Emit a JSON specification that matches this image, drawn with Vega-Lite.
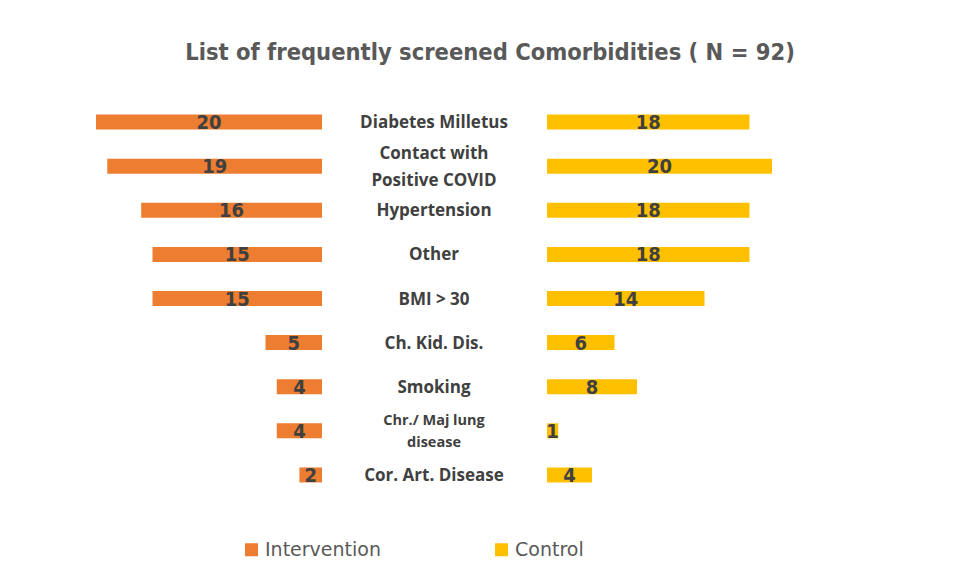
{
  "$schema": "https://vega.github.io/schema/vega-lite/v6.json",
  "background": "white",
  "padding": {"left": 96, "top": 40, "right": 10, "bottom": 10},
  "title": {
    "text": "List of frequently screened Comorbidities ( N = 92)",
    "font": "Liberation Sans Narrow, DejaVu Sans Condensed, sans-serif",
    "fontSize": 23.5,
    "fontWeight": "bold",
    "color": "#595959",
    "anchor": "middle",
    "dx": 56,
    "offset": 36
  },
  "datasets": {
    "rows": [
      {"cat": "Diabetes Milletus", "group": "Intervention", "value": 20},
      {"cat": "Diabetes Milletus", "group": "Control", "value": 18},
      {"cat": "Contact with\nPositive COVID", "group": "Intervention", "value": 19},
      {"cat": "Contact with\nPositive COVID", "group": "Control", "value": 20},
      {"cat": "Hypertension", "group": "Intervention", "value": 16},
      {"cat": "Hypertension", "group": "Control", "value": 18},
      {"cat": "Other", "group": "Intervention", "value": 15},
      {"cat": "Other", "group": "Control", "value": 18},
      {"cat": "BMI > 30", "group": "Intervention", "value": 15},
      {"cat": "BMI > 30", "group": "Control", "value": 14},
      {"cat": "Ch. Kid. Dis.", "group": "Intervention", "value": 5},
      {"cat": "Ch. Kid. Dis.", "group": "Control", "value": 6},
      {"cat": "Smoking", "group": "Intervention", "value": 4},
      {"cat": "Smoking", "group": "Control", "value": 8},
      {"cat": "Chr./  Maj  lung\ndisease", "group": "Intervention", "value": 4},
      {"cat": "Chr./  Maj  lung\ndisease", "group": "Control", "value": 1},
      {"cat": "Cor. Art. Disease", "group": "Intervention", "value": 2},
      {"cat": "Cor. Art. Disease", "group": "Control", "value": 4}
    ]
  },
  "data": {"name": "rows"},
  "spacing": 0,
  "config": {
    "view": {"stroke": null},
    "legend": {
      "symbolType": "square",
      "symbolSize": 169,
      "symbolStrokeWidth": 0,
      "labelFont": "DejaVu Sans",
      "labelFontSize": 19,
      "labelColor": "#595959",
      "labelLimit": 300,
      "columnPadding": 111,
      "labelOffset": 4
    }
  },
  "hconcat": [
    {
      "width": 226,
      "height": 397,
      "transform": [{"filter": "datum.group === 'Intervention'"}],
      "encoding": {
        "y": {"field": "cat", "type": "nominal", "axis": null,
              "sort": ["Diabetes Milletus", "Contact with\nPositive COVID", "Hypertension", "Other", "BMI > 30", "Ch. Kid. Dis.", "Smoking", "Chr./  Maj  lung\ndisease", "Cor. Art. Disease"],
              "scale": {"paddingInner": 0.66, "paddingOuter": 0.33}}
      },
      "layer": [
        {
          "mark": {"type": "bar"},
          "encoding": {
            "x": {"field": "value", "type": "quantitative", "axis": null,
                  "scale": {"domain": [0, 20], "reverse": true, "nice": false, "zero": true}},
            "color": {"field": "group", "type": "nominal",
                      "scale": {"domain": ["Intervention", "Control"], "range": ["#ED7D31", "#FFC000"]},
                      "legend": {"orient": "none", "direction": "horizontal", "title": null, "legendX": 146, "legendY": 440}}
          }
        },
        {
          "mark": {"type": "text", "font": "Liberation Sans Narrow, DejaVu Sans Condensed, sans-serif", "fontSize": 20, "fontWeight": "bold", "color": "#404040", "align": "center", "baseline": "middle", "dy": 1},
          "encoding": {
            "x": {"field": "value", "type": "quantitative", "axis": null,
                  "scale": {"domain": [0, 40], "reverse": true, "nice": false, "zero": true}},
            "text": {"field": "value", "type": "quantitative"}
          }
        }
      ],
      "resolve": {"scale": {"x": "independent"}}
    },
    {
      "width": 224,
      "height": 397,
      "transform": [{"filter": "datum.group === 'Control'"}],
      "encoding": {
        "y": {"field": "cat", "type": "nominal", "axis": null,
              "sort": ["Diabetes Milletus", "Contact with\nPositive COVID", "Hypertension", "Other", "BMI > 30", "Ch. Kid. Dis.", "Smoking", "Chr./  Maj  lung\ndisease", "Cor. Art. Disease"],
              "scale": {"paddingInner": 0.66, "paddingOuter": 0.33}}
      },
      "layer": [
        {
          "transform": [{"filter": "indexof(datum.cat, 'Contact') < 0 && indexof(datum.cat, 'lung') < 0"}],
          "mark": {"type": "text", "font": "Open Sans", "fontSize": 17, "fontWeight": "bold", "color": "#404040", "align": "center", "baseline": "middle", "dy": 1},
          "encoding": {"text": {"field": "cat", "type": "nominal"}}
        },
        {
          "transform": [{"filter": "indexof(datum.cat, 'Contact') >= 0"}],
          "mark": {"type": "text", "font": "Open Sans", "fontSize": 17, "fontWeight": "bold", "color": "#404040", "align": "center", "baseline": "middle", "lineBreak": "\n", "lineHeight": 27, "dy": -12},
          "encoding": {"text": {"field": "cat", "type": "nominal"}}
        },
        {
          "transform": [{"filter": "indexof(datum.cat, 'lung') >= 0"}],
          "mark": {"type": "text", "font": "Open Sans", "fontSize": 14.5, "fontWeight": "bold", "color": "#404040", "align": "center", "baseline": "middle", "lineBreak": "\n", "lineHeight": 22, "dy": -10},
          "encoding": {"text": {"field": "cat", "type": "nominal"}}
        }
      ]
    },
    {
      "width": 225,
      "height": 397,
      "transform": [{"filter": "datum.group === 'Control'"}],
      "encoding": {
        "y": {"field": "cat", "type": "nominal", "axis": null,
              "sort": ["Diabetes Milletus", "Contact with\nPositive COVID", "Hypertension", "Other", "BMI > 30", "Ch. Kid. Dis.", "Smoking", "Chr./  Maj  lung\ndisease", "Cor. Art. Disease"],
              "scale": {"paddingInner": 0.66, "paddingOuter": 0.33}}
      },
      "layer": [
        {
          "mark": {"type": "bar"},
          "encoding": {
            "x": {"field": "value", "type": "quantitative", "axis": null,
                  "scale": {"domain": [0, 20], "nice": false, "zero": true}},
            "color": {"field": "group", "type": "nominal",
                      "legend": {"orient": "none", "direction": "horizontal", "title": null, "legendX": 146, "legendY": 440}}
          }
        },
        {
          "mark": {"type": "text", "font": "Liberation Sans Narrow, DejaVu Sans Condensed, sans-serif", "fontSize": 20, "fontWeight": "bold", "color": "#404040", "align": "center", "baseline": "middle", "dy": 1},
          "encoding": {
            "x": {"field": "value", "type": "quantitative", "axis": null,
                  "scale": {"domain": [0, 40], "nice": false, "zero": true}},
            "text": {"field": "value", "type": "quantitative"}
          }
        }
      ],
      "resolve": {"scale": {"x": "independent"}}
    }
  ]
}
